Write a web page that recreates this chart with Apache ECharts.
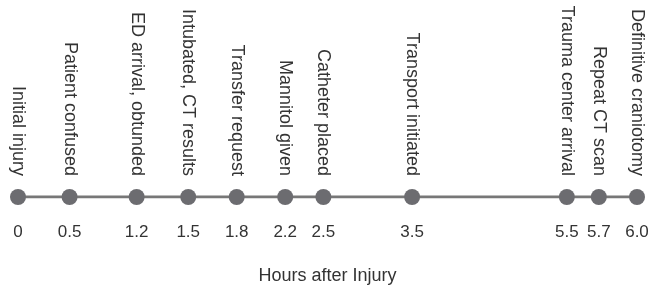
<!DOCTYPE html>
<html>
<head>
<meta charset="utf-8">
<script src="https://cdn.jsdelivr.net/npm/echarts@6/dist/echarts.min.js"></script>
<style>
    html, body { margin: 0; padding: 0; background: #fff; }
    #chart { width: 648px; height: 285px; }
</style>
</head>
<body>
<div id="chart"></div>
<script>
    // events along the timeline
    var events = ['Initial injury', 'Patient confused', 'ED arrival, obtunded', 'Intubated, CT results',
        'Transfer request', 'Mannitol given', 'Catheter placed', 'Transport initiated',
        'Trauma center arrival', 'Repeat CT scan', 'Definitive craniotomy'];
    // hour labels printed under each point
    var hours = ['0', '0.5', '1.2', '1.5', '1.8', '2.2', '2.5', '3.5', '5.5', '5.7', '6.0'];
    // where each point sits on the axis (spread out for the labels)
    var positions = [0, 0.5, 1.15, 1.65, 2.12, 2.59, 2.96, 3.82, 5.32, 5.63, 6.0];

    var chart = echarts.init(document.getElementById('chart'));

    var seriesData = positions.map(function (p, i) {
        return [p, 0];
    });

    chart.setOption({
        animation: false,
        textStyle: { fontFamily: 'Liberation Sans, Arial, sans-serif' },
        grid: { left: 18, right: 11, top: 0, bottom: 88, containLabel: false, outerBoundsMode: 'none' },
        xAxis: {
            type: 'value',
            min: 0,
            max: 6,
            name: 'Hours after Injury',
            nameLocation: 'middle',
            nameGap: 70,
            nameTextStyle: { fontSize: 18, color: '#333333' },
            axisLine: { show: false },
            axisTick: { show: false },
            splitLine: { show: false },
            axisLabel: {
                customValues: positions,
                margin: 27,
                fontSize: 17,
                color: '#333333',
                formatter: function (v) {
                    var i = positions.indexOf(v);
                    return i >= 0 ? hours[i] : '';
                }
            }
        },
        yAxis: {
            type: 'value',
            min: 0,
            max: 1,
            show: false
        },
        series: [
            {
                type: 'line',
                data: seriesData,
                symbol: 'circle',
                symbolSize: 16,
                lineStyle: { color: '#777777', width: 3 },
                itemStyle: { color: '#6c6c70' },
                label: {
                    show: true,
                    position: 'top',
                    rotate: -90,
                    align: 'right',
                    verticalAlign: 'middle',
                    distance: 13,
                    fontSize: 18,
                    color: '#333333',
                    formatter: function (p) {
                        return events[p.dataIndex];
                    }
                }
            }
        ]
    });
</script>
</body>
</html>
